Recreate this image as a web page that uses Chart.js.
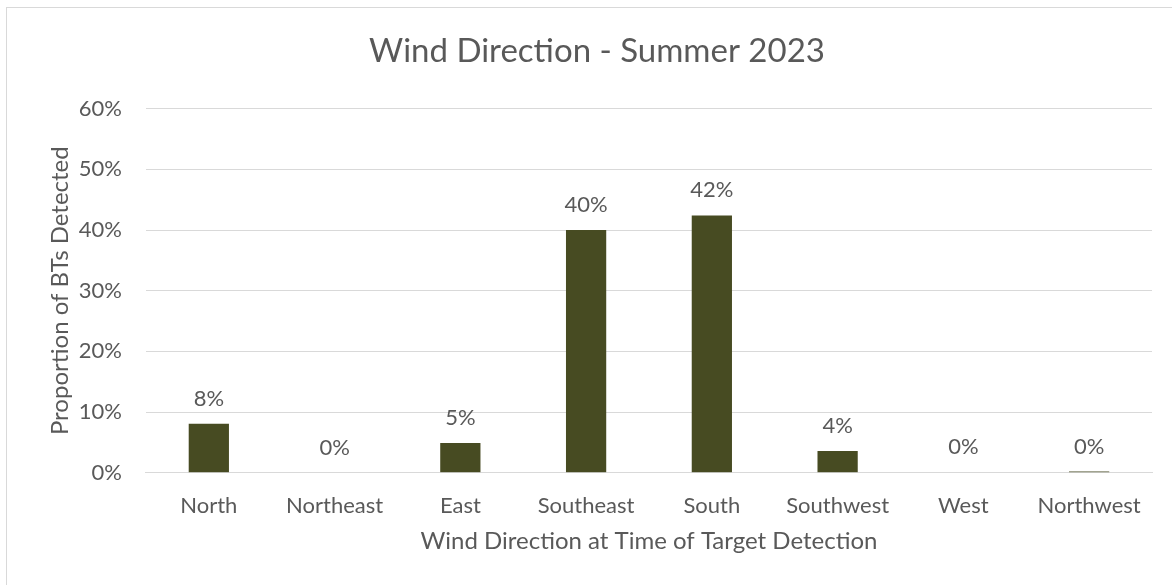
<!DOCTYPE html>
<html>
<head>
<meta charset="utf-8">
<script src="https://cdn.jsdelivr.net/npm/chart.js@4"></script>
<style>
  html, body { margin: 0; padding: 0; background: #fff; overflow: hidden; }
  #frame {
    position: absolute; left: 6px; top: 7px; width: 1200px; height: 620px;
    border: 1px solid #d9d9d9; box-sizing: border-box;
  }
  #wrap { position: absolute; left: 0; top: 0; width: 1172px; height: 585px; }
</style>
</head>
<body>
<div id="frame"></div>
<div id="wrap"><canvas id="windChart"></canvas></div>
<script>
const directions = ['North', 'Northeast', 'East', 'Southeast', 'South', 'Southwest', 'West', 'Northwest'];
const proportions = [8.1, 0, 4.9, 40.0, 42.4, 3.6, 0.1, 0.2];
const yTicks = [0, 10, 20, 30, 40, 50, 60];

const textColor = '#595959';
const fontFamily = 'Lato, "Open Sans", sans-serif';

// draws the rounded percentage above each bar
const barLabels = {
  id: 'barLabels',
  afterDatasetsDraw(chart) {
    const ctx = chart.ctx;
    const meta = chart.getDatasetMeta(0);
    ctx.save();
    ctx.fillStyle = textColor;
    ctx.font = '22px ' + fontFamily;
    ctx.textAlign = 'center';
    ctx.textBaseline = 'alphabetic';
    meta.data.forEach((bar, i) => {
      const v = chart.data.datasets[0].data[i];
      ctx.fillText(Math.round(v) + '%', bar.x, bar.y - 18);
    });
    ctx.restore();
  }
};

document.addEventListener('DOMContentLoaded', () => {
  const ctx = document.getElementById('windChart').getContext('2d');

  // tick padding is reserved twice by the scale fit, so the axis titles
  // get a negative padding to pull them back toward the labels
  window.windChart = new Chart(ctx, {
    type: 'bar',
    data: {
      labels: directions,
      datasets: [{
        label: 'Proportion',
        data: proportions,
        backgroundColor: '#474b22',
        borderWidth: 0,
        categoryPercentage: 1,
        barPercentage: 0.32
      }]
    },
    options: {
      responsive: true,
      maintainAspectRatio: false,
      animation: false,
      layout: { padding: { left: 42, right: 20, top: 0, bottom: 25 } },
      scales: {
        x: {
          grid: { display: false, drawTicks: false },
          border: { color: '#d9d9d9', width: 1 },
          ticks: { color: textColor, font: { family: fontFamily, size: 22 }, padding: 20 },
          title: {
            display: true,
            text: 'Wind Direction at Time of Target Detection',
            color: textColor,
            font: { family: fontFamily, size: 24 },
            padding: { top: -12, bottom: 4 }
          }
        },
        y: {
          min: 0,
          max: 60,
          afterBuildTicks(axis) { axis.ticks = yTicks.map(v => ({ value: v })); },
          grid: { color: '#d9d9d9', drawTicks: false },
          border: { display: false },
          ticks: {
            color: textColor,
            font: { family: fontFamily, size: 22 },
            padding: 24,
            callback: v => v + '%'
          },
          title: {
            display: true,
            text: 'Proportion of BTs Detected',
            color: textColor,
            font: { family: fontFamily, size: 24 },
            padding: { top: 4, bottom: -20 }
          }
        }
      },
      plugins: {
        legend: { display: false },
        tooltip: { enabled: false },
        title: {
          display: true,
          text: 'Wind Direction - Summer 2023',
          color: textColor,
          font: { family: fontFamily, size: 33, weight: 'normal' },
          padding: { top: 32, bottom: 37 }
        }
      }
    },
    plugins: [barLabels]
  });
});
</script>
</body>
</html>
